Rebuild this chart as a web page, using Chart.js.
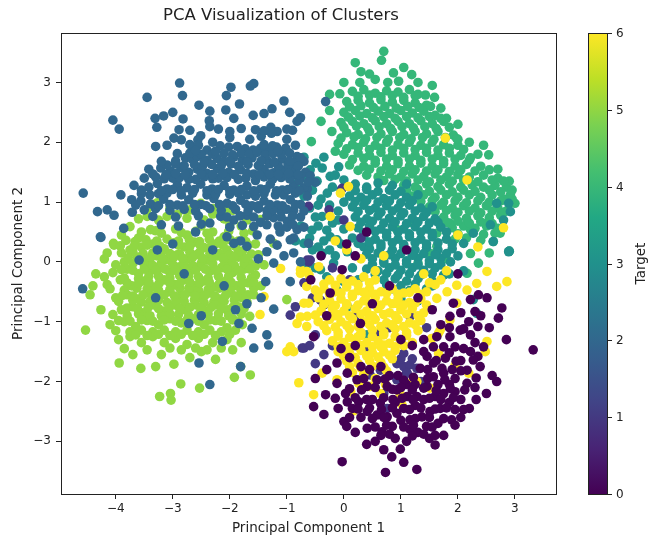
<!DOCTYPE html>
<html>
<head>
<meta charset="utf-8">
<script src="https://cdn.jsdelivr.net/npm/chart.js@4.4.1/dist/chart.umd.min.js"></script>
<style>
  html, body { margin: 0; padding: 0; background: #fff; }
  canvas { display: block; }
</style>
</head>
<body>
<canvas id="pca" width="658" height="547"></canvas>
<script>
// tick labels
const xTicks = [-4, -3, -2, -1, 0, 1, 2, 3];
const yTicks = [-3, -2, -1, 0, 1, 2, 3];
const cbarTicks = [0, 1, 2, 3, 4, 5, 6];

// points per target class as [pc1, pc2]
const target0 = [
  [3.32,-1.47],[-0.03,-3.34],[0.73,-3.52],[1.28,-3.47],[1.60,-3.06],[0.70,-3.14],[0.84,-3.26],[0.99,-3.13],[2.68,-2.00],[2.60,-1.90],
  [2.77,-0.77],[2.71,-0.94],[2.51,-0.60],[2.22,-1.22],[2.22,-1.50],[2.16,-2.03],[-0.53,-2.42],[0.00,-2.67],[0.41,-2.78],[0.67,-2.84],
  [1.89,-2.64],[1.95,-2.47],[1.16,-2.80],[-0.32,-2.22],[0.03,-2.20],[0.06,-2.34],[0.41,-2.50],[0.58,-2.56],[0.76,-2.59],[0.93,-2.53],
  [1.16,-2.64],[1.37,-2.59],[1.51,-2.50],[1.69,-2.45],[1.75,-2.20],[1.95,-2.17],[2.16,-1.81],[2.39,-1.75],[2.45,-1.42],[2.19,-1.00],
  [1.86,-0.91],[2.04,-1.14],[1.95,-1.42],[1.78,-1.61],[1.75,-1.86],[1.57,-1.92],[1.46,-2.08],[1.28,-2.25],[1.11,-2.25],[0.93,-2.14],
  [0.76,-2.08],[0.58,-1.97],[0.41,-2.08],[0.23,-1.97],[0.06,-1.86],[-0.12,-1.69],[-0.12,-2.03],[0.26,-2.34],[0.64,-2.36],[1.75,-1.42],
  [1.63,-1.25],[1.86,-1.25],[1.46,-1.58],[1.34,-1.78],[1.57,-1.69],[1.57,-1.42],[1.92,-0.69],[2.22,-0.63],[2.36,-0.55],[-0.58,-0.30],
  [-0.53,-1.25],[-0.24,-0.52],[-0.03,-0.13],[0.29,-1.03],[0.90,-2.35],[1.05,-2.45],[1.25,-2.40],[1.40,-2.30],[1.60,-2.25],[1.85,-2.35],
  [2.05,-2.30],[0.50,-2.30],[0.30,-2.60],[0.15,-2.45],[0.85,-2.75],[1.00,-2.65],[1.30,-2.85],[1.45,-2.75],[1.65,-2.70],[1.50,-2.95],
  [1.10,-3.00],[0.55,-3.00],[0.90,-2.95],[1.95,-1.95],[2.05,-1.65],[2.30,-1.35],[2.10,-1.45],[1.90,-1.80],[1.65,-2.05],[1.85,-2.05],
  [1.25,-2.05],[1.10,-2.05],[0.95,-1.90],[0.80,-1.90],[0.65,-1.75],[0.45,-1.80],[0.30,-1.75],[0.10,-1.60],[-0.05,-1.45],[0.20,-1.40],
  [1.40,-1.30],[1.20,-1.40],[1.00,-1.30],[1.70,-1.05],[1.55,-0.80],[2.40,-0.90],[2.55,-1.10],[-0.30,-1.80],[-0.50,-1.95],[2.85,-1.30],
  [2.50,-2.20],[2.30,-2.10],[-0.35,-2.55],[0.20,-2.85],[1.05,-3.35],[0.40,-3.05],[1.75,-2.90],[2.20,-2.45],[-0.30,-0.90],[0.50,-0.70],
  [1.30,-0.60],[0.80,-0.40],[0.05,0.30],[0.40,0.50],[0.20,0.10],[-0.40,0.10],[1.10,0.20],[2.00,-0.20],
  [1.40,-1.50],[1.85,-1.52],[2.35,-1.58],[1.62,-1.65],[1.97,-1.66],[2.27,-1.64],[1.47,-1.80],[1.72,-1.78],[2.05,-1.82],
  [0.35,-1.95],[0.72,-1.96],[1.05,-1.98],[1.22,-1.93],[1.47,-1.95],[1.77,-1.97],[2.32,-1.94],
  [0.10,-2.12],[0.31,-2.14],[0.55,-2.10],[0.85,-2.13],[1.00,-2.10],[1.20,-2.14],[1.40,-2.11],[1.62,-2.15],[1.87,-2.12],[2.12,-2.14],
  [-0.15,-2.28],[0.20,-2.27],[0.40,-2.30],[0.70,-2.27],[0.86,-2.30],[1.02,-2.28],[1.21,-2.30],[1.50,-2.28],[1.70,-2.30],[1.92,-2.27],[2.32,-2.30],
  [-0.10,-2.45],[0.25,-2.46],[0.45,-2.44],[0.66,-2.47],[0.85,-2.44],[1.15,-2.47],[1.35,-2.44],[1.60,-2.46],[1.80,-2.44],[2.10,-2.47],
  [0.10,-2.60],[0.50,-2.62],[0.70,-2.60],[1.25,-2.62],[1.50,-2.60],[1.75,-2.62],[2.05,-2.60],
  [0.05,-2.75],[0.55,-2.76],[0.75,-2.73],[1.05,-2.76],[1.22,-2.73],[1.55,-2.76],[1.95,-2.73],
  [0.65,-2.90],[0.80,-2.88],[1.20,-2.91],[1.40,-2.88],[1.60,-2.90],
  [1.85,-1.10],[2.10,-1.12],[2.35,-1.08],[2.05,-0.85],[2.30,-0.83]
];
const target1 = [
  [0.93,-1.70],[1.05,-1.75],[1.16,-1.72],[1.28,-1.78],[1.00,-1.62],[1.20,-1.62],[1.10,-1.85],[0.46,-1.89],[0.76,-2.45],[1.16,-0.91],
  [-0.73,-1.44],[-0.41,-0.64],[-0.35,-0.72],[-0.64,0.03],[1.05,-1.53],[1.11,-1.86],[0.64,-1.81],[0.93,-1.97],[-0.94,-0.89],[-0.70,-1.44],
  [-0.50,-1.22],[-0.62,0.00],[-0.62,0.93],[-0.03,1.23],[-0.26,0.87],[-0.59,0.03],[0.20,-0.90],[0.60,-1.20],[1.45,-1.10],[0.10,-0.30],
  [-0.20,-0.10],[0.40,-1.50],[0.80,-1.10],[1.35,-2.00],[0.70,-2.20],[-0.20,-1.40],[0.30,0.40],[0.00,0.70],
  [-0.70,-0.35],[-0.55,-0.60],[-0.85,-0.75],[-0.60,-1.40],[-0.35,-1.55],[-0.50,-1.70]
];
const target2 = [
  [-2.88,2.99],[-3.45,2.75],[-2.83,2.78],[-1.98,2.92],[-2.06,2.78],[-1.64,2.94],[-1.58,2.98],[-4.05,2.37],[-3.94,2.22],[-1.05,2.69],
  [-2.54,2.62],[-1.83,2.64],[-2.07,2.54],[-1.59,2.45],[-1.26,2.56],[-0.76,2.41],[-0.82,2.35],[-3.31,2.40],[-3.16,2.44],[-2.82,2.39],
  [-2.36,2.36],[-2.35,2.26],[-1.93,2.40],[-1.80,2.23],[-3.28,2.25],[-1.28,2.25],[-1.17,2.18],[-1.27,2.15],[-2.89,2.21],[-2.98,2.07],
  [-2.85,2.04],[-2.51,2.11],[-2.56,2.04],[-3.30,1.93],[-0.32,2.68],[-2.30,2.00],[-2.00,2.08],[-1.65,2.05],[-1.45,2.10],[-3.10,1.95],
  [-2.70,1.96],[-1.00,2.05],[-0.90,2.20],
  [-2.40,1.87],[-2.17,1.94],[-2.02,1.92],[-1.87,1.93],[-1.73,1.89],[-1.59,1.87],[-1.46,1.90],[-1.32,1.88],[-1.18,1.92],[-1.02,1.90],
  [-0.82,1.76],[-0.70,1.68],
  [-2.78,1.74],[-2.66,1.72],[-2.57,1.76],[-2.40,1.70],[-2.22,1.73],[-2.10,1.68],[-1.93,1.75],[-1.78,1.70],[-1.61,1.74],[-1.35,1.70],
  [-1.08,1.72],[-0.88,1.66],[-0.76,1.74],[-2.70,1.82],[-2.50,1.80],
  [-3.42,1.55],[-3.21,1.57],[-3.04,1.52],[-2.86,1.58],[-2.72,1.50],[-2.57,1.55],[-2.40,1.48],[-2.22,1.56],[-2.02,1.50],[-1.81,1.54],
  [-1.58,1.47],[-1.40,1.55],[-1.23,1.49],[-1.05,1.53],[-0.88,1.45],[-0.67,1.50],[-0.85,1.55],[-0.76,1.44],
  [-3.68,1.28],[-3.42,1.25],[-3.27,1.31],[-3.10,1.22],[-2.92,1.29],[-2.75,1.24],[-2.51,1.30],[-2.31,1.22],[-2.10,1.28],[-1.93,1.20],
  [-1.70,1.27],[-1.46,1.22],[-1.29,1.30],[-1.08,1.20],[-0.88,1.28],[-0.64,1.22],[-0.50,1.33],[-0.59,1.44],[-2.60,1.38],[-2.20,1.40],
  [-1.85,1.38],[-1.55,1.36],[-3.00,1.40],
  [-4.57,1.15],[-3.91,1.12],[-3.72,1.04],[-4.32,0.84],[-4.15,0.87],[-4.03,0.78],[-3.71,0.83],[-4.27,0.42],[-3.86,0.56],[-4.58,-0.45],
  [-4.26,0.41],
  [-3.56,1.02],[-3.39,0.97],[-3.16,1.05],[-2.92,0.95],[-2.72,1.04],[-2.51,0.96],[-2.28,1.06],[-2.05,0.98],[-1.81,1.03],[-1.61,0.94],
  [-1.40,1.02],[-1.17,0.95],[-0.94,1.04],[-0.76,0.96],[-0.70,1.24],[-0.64,1.10],[-2.40,1.12],[-2.00,1.13],[-1.55,1.10],[-1.20,1.12],
  [-3.25,1.14],
  [-2.16,0.76],[-1.93,0.70],[-1.70,0.78],[-1.46,0.66],[-1.23,0.74],[-0.99,0.68],[-0.76,0.75],[-1.10,0.84],[-1.35,0.86],[-0.88,0.86],
  [-2.35,0.65],
  [-2.05,0.42],[-1.81,0.35],[-1.52,0.45],[-1.29,0.38],[-1.12,0.50],[-0.88,0.40],[-0.62,0.31],[-0.82,0.54],[-1.00,0.58],
  [-1.93,0.31],[-1.70,0.26],[-1.35,0.17],[-1.17,0.28],[-0.94,0.37],[-0.88,0.15],[-1.23,-0.02],[-0.94,-0.33],[-1.37,-0.33],[-1.23,-0.79],
  [-1.35,-1.22],[-1.32,-1.39],[-1.58,-1.44],[-2.13,-1.33],[-1.61,-1.11],[-2.54,-1.69],[-2.35,-2.05],[-1.81,-1.75],[-1.84,-1.03],[-2.72,-1.03],
  [-3.27,0.20],[-3.59,0.03],[-0.76,0.00],[-1.05,0.10],[-1.50,0.05],[-1.45,-0.60],[-1.70,-0.70],
  [-2.60,0.50],[-3.00,0.30],[-2.30,0.20],[-2.80,-0.20],[-2.10,-0.40],[-3.30,-0.60],[-2.50,-0.90],[-1.90,-0.80],
  [-2.92,1.81],[-2.30,1.80],[-2.10,1.82],[-1.95,1.79],[-1.80,1.82],[-1.66,1.80],[-1.52,1.83],[-1.38,1.79],[-1.24,1.81],[-1.10,1.80],[-0.95,1.82],
  [-3.10,1.62],[-2.95,1.64],[-2.80,1.61],[-2.62,1.63],[-2.48,1.60],[-2.32,1.63],[-2.15,1.61],[-1.98,1.64],[-1.85,1.60],[-1.68,1.63],
  [-1.50,1.61],[-1.30,1.64],[-1.15,1.60],[-0.98,1.62],[-0.80,1.60],
  [-3.50,1.40],[-3.30,1.42],[-3.15,1.39],[-2.88,1.41],[-2.72,1.38],[-2.45,1.42],[-2.30,1.39],[-2.05,1.41],[-1.72,1.40],[-1.40,1.42],
  [-1.25,1.38],[-1.10,1.41],[-0.95,1.39],[-0.78,1.36],[-0.62,1.34],
  [-3.55,1.14],[-3.40,1.12],[-3.10,1.15],[-2.85,1.12],[-2.65,1.15],[-2.25,1.13],[-1.85,1.15],[-1.70,1.12],[-1.40,1.14],[-1.05,1.12],[-0.85,1.15],
  [-3.50,0.87],[-3.30,0.89],[-3.05,0.86],[-2.80,0.88],[-2.60,0.85],[-2.35,0.89],[-2.15,0.86],[-1.90,0.88],[-1.68,0.85],[-1.50,0.89],
  [-1.25,0.86],[-1.00,0.88],[-0.70,0.85],
  [-3.20,0.62],[-2.90,0.60],[-2.50,0.63],[-2.00,0.58],[-1.78,0.61],[-1.58,0.59],[-1.35,0.62],[-1.15,0.60],[-0.90,0.63],[-0.70,0.58],
  [-2.70,2.20],[-2.20,2.22],[-2.00,2.18],[-1.55,2.21],[-1.40,2.19],[-1.00,2.22],
  [-3.00,2.50],[-2.35,2.52],[-1.40,2.48],[-0.95,2.50],
  [-2.55,1.95],[-1.40,1.96],[-1.25,1.94],[-0.85,1.95],[-2.60,1.86],[-2.25,1.85],[-1.15,1.86],
  [-3.20,1.68],[-2.95,1.69],[-2.45,1.67],[-2.00,1.69],[-1.70,1.67],[-1.45,1.69],[-1.22,1.67],[-0.95,1.69],
  [-3.35,1.47],[-3.12,1.46],[-2.95,1.48],[-2.78,1.46],[-2.50,1.47],[-2.30,1.46],[-2.12,1.48],[-1.92,1.46],[-1.70,1.48],[-1.48,1.46],
  [-1.30,1.47],[-1.15,1.46],[-0.97,1.48],[-0.80,1.46],
  [-3.55,1.20],[-3.20,1.19],[-3.00,1.21],[-2.85,1.19],[-2.62,1.21],[-2.40,1.19],[-2.20,1.21],[-2.00,1.19],[-1.80,1.21],[-1.58,1.19],
  [-1.37,1.21],[-1.18,1.19],[-0.98,1.21],[-0.78,1.19],
  [-3.65,0.95],[-3.25,0.94],[-3.05,0.96],[-2.82,0.94],[-2.62,0.96],[-2.42,0.94],[-2.18,0.96],[-1.95,0.94],[-1.72,0.96],[-1.50,0.94],
  [-1.30,0.96],[-1.08,0.94],[-0.85,0.96],
  [-3.35,0.76],[-2.95,0.75],[-2.55,0.77],[-2.05,0.75],[-1.82,0.77],[-1.58,0.75],[-1.35,0.77],[-1.10,0.75],[-0.90,0.77]
];
const target3 = [
  [-0.59,1.54],[-0.38,1.57],[-0.47,1.35],[-0.24,1.43],[-0.29,1.15],[-0.09,1.59],[0.00,1.37],[-0.38,0.76],[-0.56,0.53],[-0.70,0.31],
  [-0.24,0.42],[-0.38,0.15],[-0.18,-0.02],[-0.64,1.49],[-0.74,1.40],[-0.49,1.65],
  [2.68,0.98],[2.89,0.98],[2.92,0.84],[2.80,0.70],[2.57,0.62],[2.62,0.34],[2.90,0.18],[2.10,0.31],[2.27,0.48],[1.87,0.00],
  [2.89,0.17],[0.41,-1.22],[2.33,-0.86],[2.27,-0.63],[0.06,-0.75],[-0.12,-0.47],[0.00,-0.33],[-0.41,-0.13],[-0.55,0.20],[-0.30,0.53],
  [-0.12,0.37],[0.06,0.17],[0.35,0.25],
  [0.20,1.30],[0.40,1.25],[0.60,1.32],[0.85,1.28],[1.10,1.30],
  [0.10,1.10],[0.30,1.08],[0.50,1.12],[0.70,1.06],[0.90,1.12],[1.10,1.08],[1.30,1.12],
  [0.15,0.92],[0.35,0.95],[0.55,0.90],[0.75,0.94],[0.95,0.90],[1.15,0.95],[1.35,0.90],[1.55,0.92],
  [0.20,0.75],[0.40,0.72],[0.60,0.77],[0.80,0.73],[1.00,0.77],[1.20,0.73],[1.40,0.76],[1.60,0.72],
  [0.25,0.57],[0.45,0.60],[0.65,0.55],[0.85,0.59],[1.05,0.55],[1.25,0.59],[1.45,0.55],[1.70,0.58],
  [0.15,0.40],[0.35,0.42],[0.55,0.38],[0.75,0.42],[0.95,0.38],[1.15,0.42],[1.35,0.38],[1.55,0.42],[1.80,0.38],
  [0.45,0.22],[0.65,0.25],[0.85,0.20],[1.05,0.24],[1.25,0.20],[1.45,0.24],[1.65,0.20],[1.90,0.22],
  [0.50,0.05],[0.70,0.02],[0.90,0.06],[1.10,0.02],[1.30,0.06],[1.50,0.02],[1.70,0.06],[2.00,0.10],
  [0.40,-0.12],[0.60,-0.15],[0.80,-0.10],[1.00,-0.14],[1.20,-0.10],[1.40,-0.14],[1.60,-0.10],[1.85,-0.20],
  [0.70,-0.30],[0.90,-0.28],[1.10,-0.32],[1.30,-0.28],[1.55,-0.32],[2.10,-0.15],
  [0.85,-0.45],[1.15,-0.48],[1.45,-0.45],[1.00,-0.62],[1.30,-0.65],[0.25,-0.30],[0.15,-0.10],
  [0.20,1.19],[0.40,1.21],[0.60,1.18],[0.80,1.20],[1.00,1.18],
  [0.20,1.01],[0.40,1.03],[0.60,1.00],[0.80,1.02],[1.00,0.99],[1.20,1.02],
  [0.25,0.84],[0.45,0.86],[0.65,0.83],[0.85,0.85],[1.05,0.82],[1.25,0.85],[1.45,0.83],
  [0.30,0.66],[0.50,0.68],[0.70,0.65],[0.90,0.67],[1.10,0.64],[1.30,0.67],[1.50,0.65],[1.65,0.66],
  [0.35,0.49],[0.55,0.51],[0.75,0.48],[0.95,0.50],[1.15,0.47],[1.35,0.50],[1.55,0.48],[1.80,0.50],
  [0.25,0.31],[0.45,0.33],[0.65,0.30],[0.85,0.32],[1.05,0.29],[1.25,0.32],[1.45,0.30],[1.65,0.32],[1.90,0.30],
  [0.40,0.13],[0.60,0.15],[0.80,0.12],[1.00,0.14],[1.20,0.11],[1.40,0.14],[1.60,0.12],[1.80,0.14],
  [0.50,-0.04],[0.70,-0.02],[0.90,-0.05],[1.10,-0.03],[1.30,-0.05],[1.50,-0.03],[1.70,-0.05],
  [0.55,-0.21],[0.75,-0.19],[0.95,-0.22],[1.15,-0.20],[1.35,-0.22],[1.55,-0.20],[1.75,-0.22],
  [0.75,-0.38],[1.00,-0.40],[1.25,-0.37],[1.55,-0.40],
  [-0.45,0.95],[-0.20,1.25],[-0.10,0.85],[-0.35,0.35],[0.00,0.55],[-0.50,0.75],[-0.15,0.10],
  [-0.85,1.30],[-0.70,1.10],[-0.55,1.20],[-0.40,1.05],[-0.25,0.95],[-0.60,0.90],[-0.45,0.60],[-0.20,0.65],[-0.75,0.60],
  [-0.60,0.40],[-0.85,0.35],[-0.45,0.25],[-0.25,0.20],[-0.05,0.30],[-0.65,-0.05],[-0.50,-0.10],[-0.30,-0.25],[-0.15,1.45],
  [-0.35,1.75],[-0.70,1.75],[-0.95,1.55],[-0.10,0.70],[0.00,1.00],[-0.05,1.20]
];
const target4 = [
  [0.70,3.52],[0.66,3.37],[0.20,3.33],[1.05,3.25],[1.19,3.13],[0.45,3.14],[0.28,3.00],[0.87,3.16],[0.77,3.00],[0.96,3.02],
  [-0.07,2.81],[1.43,2.79],[1.59,2.75],[1.70,2.57],[1.92,2.12],[2.54,1.79],[2.22,1.74],[2.92,1.12],[3.00,0.98],[2.90,0.18],
  [2.62,0.34],[-0.25,2.53],[-0.21,2.18],[-0.57,2.01],
  [0.15,2.85],[0.35,2.88],[0.55,2.82],[0.75,2.86],[0.95,2.84],[1.15,2.88],[1.30,2.80],
  [0.05,2.68],[0.25,2.70],[0.45,2.66],[0.65,2.71],[0.85,2.67],[1.05,2.70],[1.25,2.66],[1.45,2.62],
  [0.00,2.50],[0.20,2.53],[0.40,2.48],[0.60,2.52],[0.80,2.48],[1.00,2.53],[1.20,2.49],[1.40,2.52],[1.60,2.45],
  [-0.05,2.33],[0.15,2.35],[0.35,2.31],[0.55,2.36],[0.75,2.31],[0.95,2.35],[1.15,2.31],[1.35,2.36],[1.55,2.31],[1.75,2.35],
  [0.05,2.16],[0.25,2.13],[0.45,2.18],[0.65,2.14],[0.85,2.18],[1.05,2.13],[1.25,2.18],[1.45,2.14],[1.65,2.18],[1.85,2.25],
  [-0.10,1.98],[0.15,1.96],[0.35,2.00],[0.55,1.95],[0.75,2.00],[0.95,1.96],[1.15,2.00],[1.35,1.95],[1.55,2.00],[1.75,1.96],[2.00,1.95],
  [0.00,1.80],[0.25,1.82],[0.45,1.78],[0.65,1.83],[0.85,1.78],[1.05,1.82],[1.25,1.78],[1.45,1.83],[1.65,1.78],[1.85,1.82],[2.05,1.78],[2.35,1.80],
  [0.10,1.62],[0.35,1.60],[0.55,1.65],[0.75,1.60],[0.95,1.64],[1.15,1.60],[1.35,1.65],[1.55,1.60],[1.75,1.64],[1.95,1.60],[2.15,1.63],[2.40,1.60],
  [0.40,1.45],[0.60,1.42],[0.80,1.47],[1.00,1.42],[1.20,1.47],[1.40,1.43],[1.60,1.47],[1.80,1.42],[2.00,1.46],[2.20,1.42],[2.45,1.45],[2.70,1.40],
  [1.05,1.28],[1.25,1.25],[1.45,1.30],[1.65,1.26],[1.85,1.30],[2.05,1.25],[2.25,1.29],[2.45,1.25],[2.65,1.28],[2.85,1.25],
  [1.20,1.10],[1.40,1.12],[1.60,1.08],[1.80,1.12],[2.00,1.08],[2.20,1.12],[2.40,1.08],[2.60,1.12],[2.80,1.05],
  [1.50,0.92],[1.70,0.95],[1.90,0.90],[2.10,0.94],[2.30,0.90],[2.50,0.94],[2.70,0.90],
  [1.75,0.75],[1.95,0.78],[2.15,0.73],[2.35,0.77],[2.55,0.74],[2.75,0.78],
  [1.90,0.57],[2.10,0.60],[2.30,0.56],[2.50,0.60],[2.70,0.56],
  [1.95,0.38],[2.15,0.40],[2.40,0.36],[2.55,0.15],
  [0.93,0.54],[1.22,0.65],[1.63,0.48],[1.86,0.65],[2.22,0.54],[2.51,0.65],[2.74,0.48],[1.63,0.26],[2.22,0.14],[2.36,-0.02],
  [2.16,-0.19],[1.52,0.14],[1.80,0.05],[1.30,-0.02],
  [0.00,3.00],[0.30,3.18],[0.55,3.05],[1.30,3.00],[1.55,2.95],[1.80,2.40],[2.00,2.30],[2.00,2.05],[2.20,2.00],[2.45,1.95],
  [2.70,1.55],[2.90,1.35],[2.95,1.05],[2.85,0.85],[-0.25,2.80],[-0.40,2.35],[-0.15,1.85],
  [0.25,2.77],[0.45,2.79],[0.65,2.76],[0.85,2.78],[1.05,2.75],[1.25,2.78],
  [0.10,2.59],[0.30,2.61],[0.52,2.58],[0.72,2.60],[0.92,2.57],[1.12,2.60],[1.32,2.58],[1.52,2.60],
  [0.08,2.42],[0.28,2.44],[0.50,2.41],[0.70,2.43],[0.90,2.40],[1.10,2.43],[1.30,2.41],[1.50,2.43],[1.70,2.40],
  [0.00,2.25],[0.22,2.27],[0.42,2.24],[0.62,2.26],[0.82,2.23],[1.02,2.26],[1.22,2.24],[1.42,2.26],[1.62,2.23],
  [-0.05,2.07],[0.18,2.09],[0.38,2.06],[0.58,2.08],[0.78,2.05],[0.98,2.08],[1.18,2.06],[1.38,2.08],[1.58,2.05],[1.78,2.08],[1.98,2.06],
  [0.05,1.89],[0.25,1.91],[0.45,1.88],[0.65,1.90],[0.85,1.87],[1.05,1.90],[1.25,1.88],[1.45,1.90],[1.65,1.87],[1.85,1.90],[2.10,1.88],
  [0.15,1.71],[0.35,1.73],[0.55,1.70],[0.75,1.72],[0.95,1.69],[1.15,1.72],[1.35,1.70],[1.55,1.72],[1.75,1.69],[1.95,1.72],[2.20,1.70],
  [0.25,1.53],[0.45,1.55],[0.65,1.52],[0.85,1.54],[1.05,1.51],[1.25,1.54],[1.45,1.52],[1.65,1.54],[1.85,1.51],[2.05,1.54],[2.30,1.52],[2.55,1.54],
  [0.70,1.36],[0.90,1.38],[1.10,1.35],[1.30,1.37],[1.50,1.34],[1.70,1.37],[1.90,1.35],[2.10,1.37],[2.35,1.34],[2.60,1.37],[2.80,1.35],
  [1.10,1.19],[1.30,1.21],[1.50,1.18],[1.70,1.20],[1.90,1.17],[2.10,1.20],[2.30,1.18],[2.55,1.20],[2.75,1.17],[2.95,1.20],
  [1.35,1.01],[1.55,1.03],[1.75,1.00],[1.95,1.02],[2.15,0.99],[2.35,1.02],[2.55,1.00],[2.75,1.02],
  [1.60,0.84],[1.80,0.86],[2.00,0.83],[2.20,0.85],[2.40,0.82],[2.60,0.85],[2.80,0.83],
  [1.80,0.66],[2.00,0.68],[2.20,0.65],[2.40,0.67],[2.60,0.64],
  [2.00,0.47],[2.25,0.49],[2.45,0.46],[2.65,0.48]
];
const target5 = [
  [-3.27,0.99],[-2.51,0.98],[-2.09,0.87],[-1.46,0.71],[-3.75,0.59],[-4.04,0.31],[-3.45,0.76],[-3.10,0.76],[-2.92,0.79],[-2.69,0.87],
  [-3.39,0.54],[-2.30,0.80],[-1.80,0.60],[-1.60,0.52],[-2.00,0.62],
  [-3.90,0.45],[-3.60,0.40],[-3.20,0.48],[-2.95,0.55],[-2.75,0.45],[-2.50,0.60],[-2.30,0.50],[-2.10,0.42],[-1.85,0.35],[-1.55,0.30],
  [-4.03,0.28],[-3.75,0.20],[-3.55,0.25],[-3.35,0.30],[-3.15,0.22],[-2.98,0.32],[-2.80,0.25],[-2.62,0.33],[-2.45,0.24],[-2.25,0.30],
  [-2.05,0.20],[-1.78,0.18],[-1.50,0.12],[-1.23,0.31],
  [-4.20,0.05],[-3.85,0.00],[-3.62,0.08],[-3.45,0.02],[-3.28,0.10],[-3.10,0.04],[-2.92,0.12],[-2.75,0.05],[-2.58,0.12],[-2.40,0.03],
  [-2.22,0.10],[-2.02,0.00],[-1.85,0.08],[-1.65,-0.02],[-1.40,-0.05],
  [-4.35,-0.20],[-4.05,-0.18],[-3.80,-0.12],[-3.60,-0.20],[-3.40,-0.14],[-3.22,-0.10],[-3.05,-0.18],[-2.88,-0.08],[-2.70,-0.15],[-2.52,-0.07],
  [-2.35,-0.16],[-2.15,-0.10],[-1.95,-0.18],[-1.75,-0.12],[-1.55,-0.22],
  [-4.45,-0.55],[-4.15,-0.38],[-3.92,-0.30],[-3.72,-0.40],[-3.52,-0.32],[-3.33,-0.42],[-3.15,-0.30],[-2.97,-0.38],[-2.80,-0.30],[-2.62,-0.40],
  [-2.45,-0.32],[-2.27,-0.42],[-2.08,-0.33],[-1.88,-0.40],[-1.68,-0.35],[-1.45,-0.40],
  [-4.26,-0.80],[-4.00,-0.60],[-3.80,-0.55],[-3.62,-0.62],[-3.43,-0.52],[-3.25,-0.60],[-3.05,-0.50],[-2.88,-0.58],[-2.70,-0.50],[-2.52,-0.60],
  [-2.35,-0.52],[-2.17,-0.62],[-1.98,-0.52],[-1.78,-0.60],[-1.58,-0.55],
  [-3.90,-0.80],[-3.70,-0.75],[-3.52,-0.85],[-3.33,-0.72],[-3.15,-0.82],[-2.97,-0.72],[-2.78,-0.80],[-2.60,-0.72],[-2.42,-0.82],[-2.25,-0.72],
  [-2.05,-0.80],[-1.85,-0.75],[-1.65,-0.91],[-1.95,-0.95],
  [-4.53,-1.14],[-4.10,-1.05],[-3.85,-1.00],[-3.65,-1.08],[-3.45,-0.98],[-3.25,-1.05],[-3.05,-0.95],[-2.85,-1.02],[-2.65,-0.95],[-2.45,-1.05],
  [-2.25,-0.98],[-2.05,-1.10],[-1.78,-1.05],
  [-3.95,-1.30],[-3.75,-1.25],[-3.55,-1.35],[-3.35,-1.25],[-3.15,-1.35],[-2.95,-1.28],[-2.75,-1.38],[-2.55,-1.28],[-2.30,-1.35],[-2.05,-1.30],
  [-1.80,-1.35],
  [-3.94,-1.69],[-3.56,-1.78],[-3.30,-1.75],[-2.98,-1.71],[-2.25,-1.63],[-1.81,-1.75],[-1.92,-1.93],[-1.64,-1.89],[-2.86,-2.04],[-2.53,-2.11],
  [-3.23,-2.25],[-3.04,-2.20],[-3.03,-2.31],[-3.70,-1.55],[-3.20,-1.55],[-2.70,-1.60],[-2.50,-1.50],[-4.15,0.15],[-4.40,-0.40],[-1.00,-0.63],
  [-3.35,0.15],[-3.05,0.14],[-2.70,0.16],[-2.35,0.14],[-2.00,0.12],
  [-3.50,-0.05],[-3.20,-0.02],[-2.80,-0.04],[-2.50,-0.02],[-2.10,-0.05],
  [-3.60,-0.28],[-3.25,-0.24],[-2.88,-0.23],[-2.55,-0.25],[-2.20,-0.24],[-1.80,-0.26],
  [-3.45,-0.45],[-3.05,-0.46],[-2.72,-0.44],[-2.38,-0.46],[-2.00,-0.45],
  [-3.40,-0.66],[-3.10,-0.68],[-2.80,-0.66],[-2.45,-0.68],[-2.10,-0.66],
  [-3.20,-0.90],[-2.90,-0.88],[-2.55,-0.88],[-2.20,-0.87],
  [-3.82,0.36],[-3.66,0.34],[-3.47,0.37],[-3.28,0.35],[-3.10,0.38],[-2.90,0.35],[-2.71,0.37],[-2.53,0.34],[-2.36,0.38],[-2.18,0.35],[-1.99,0.37],[-1.72,0.34],
  [-3.90,0.15],[-3.70,0.17],[-3.52,0.14],[-3.20,0.16],[-2.88,0.13],[-2.53,0.16],[-2.18,0.14],[-1.85,0.17],[-1.62,0.13],
  [-4.00,-0.05],[-3.70,-0.03],[-3.35,-0.06],[-3.00,-0.04],[-2.65,-0.06],[-2.30,-0.03],[-1.92,-0.06],[-1.75,-0.03],[-1.55,-0.07],
  [-4.20,-0.25],[-3.85,-0.27],[-3.42,-0.24],[-3.05,-0.27],[-2.72,-0.24],[-2.38,-0.27],[-2.02,-0.24],[-1.62,-0.27],
  [-4.10,-0.45],[-3.85,-0.47],[-3.63,-0.44],[-3.25,-0.47],[-2.88,-0.44],[-2.55,-0.47],[-2.18,-0.44],[-1.80,-0.47],[-1.58,-0.44],
  [-3.95,-0.66],[-3.70,-0.64],[-3.55,-0.67],[-3.25,-0.64],[-2.95,-0.67],[-2.62,-0.64],[-2.28,-0.67],[-1.92,-0.64],[-1.70,-0.67],
  [-4.05,-0.88],[-3.80,-0.90],[-3.60,-0.87],[-3.40,-0.90],[-3.05,-0.87],[-2.72,-0.90],[-2.38,-0.87],[-2.02,-0.90],[-1.80,-0.87],
  [-4.00,-1.15],[-3.75,-1.17],[-3.55,-1.14],[-3.35,-1.17],[-3.15,-1.14],[-2.95,-1.17],[-2.75,-1.14],[-2.55,-1.17],[-2.35,-1.14],[-2.15,-1.17],[-1.90,-1.14],
  [-3.85,-1.45],[-3.45,-1.47],[-3.05,-1.44],[-2.85,-1.47],[-2.60,-1.44],[-2.40,-1.47],[-2.15,-1.44],[-1.95,-1.47],
  [-3.60,0.72],[-3.25,0.70],[-2.75,0.73],[-2.45,0.70],[-2.10,0.72],[-1.70,0.70],
  [-3.45,0.88],[-3.05,0.90],[-2.80,0.87],[-2.30,0.89],[-1.95,0.86],
  [-3.55,0.50],[-3.30,0.52],[-2.85,0.49],[-2.60,0.51],[-2.40,0.48],[-2.02,0.51],[-1.75,0.48],
  [-3.92,0.27],[-3.68,0.26],[-3.45,0.28],[-3.22,0.26],[-2.90,0.28],[-2.70,0.26],[-2.52,0.28],[-2.33,0.26],[-2.12,0.28],[-1.90,0.26],[-1.68,0.28],
  [-3.78,0.07],[-3.55,0.06],[-3.38,0.08],[-3.18,0.06],[-2.98,0.08],[-2.83,0.06],[-2.65,0.08],[-2.48,0.06],[-2.30,0.08],[-2.12,0.06],[-1.93,0.08],[-1.72,0.06],
  [-3.90,-0.13],[-3.70,-0.14],[-3.50,-0.12],[-3.30,-0.14],[-3.13,-0.12],[-2.96,-0.14],[-2.78,-0.12],[-2.60,-0.14],[-2.43,-0.12],[-2.25,-0.14],
  [-2.05,-0.12],[-1.85,-0.14],[-1.65,-0.12],
  [-3.80,-0.35],[-3.60,-0.36],[-3.42,-0.34],[-3.24,-0.36],[-3.06,-0.34],[-2.88,-0.36],[-2.70,-0.34],[-2.53,-0.36],[-2.36,-0.34],[-2.18,-0.36],
  [-1.98,-0.34],[-1.78,-0.36],[-1.58,-0.34],
  [-3.88,-0.56],[-3.70,-0.57],[-3.52,-0.55],[-3.34,-0.57],[-3.15,-0.55],[-2.97,-0.57],[-2.79,-0.55],[-2.61,-0.57],[-2.43,-0.55],[-2.26,-0.57],
  [-2.07,-0.55],[-1.88,-0.57],[-1.68,-0.55],
  [-3.80,-0.77],[-3.62,-0.78],[-3.43,-0.76],[-3.25,-0.78],[-3.06,-0.76],[-2.88,-0.78],[-2.70,-0.76],[-2.51,-0.78],[-2.33,-0.76],[-2.15,-0.78],
  [-1.95,-0.76],[-1.75,-0.78],
  [-3.95,-0.98],[-3.75,-0.99],[-3.55,-0.97],[-3.35,-0.99],[-3.15,-0.97],[-2.95,-0.99],[-2.75,-0.97],[-2.55,-0.99],[-2.35,-0.97],[-2.15,-0.99],
  [-1.95,-0.97],[-1.85,-1.00],
  [-3.65,-1.22],[-3.45,-1.23],[-3.25,-1.21],[-3.05,-1.23],[-2.85,-1.21],[-2.65,-1.23],[-2.45,-1.21],[-2.25,-1.23],[-2.00,-1.21]
];
const target6 = [
  [-1.00,-1.50],[-0.94,-1.42],[-0.79,-2.02],[-0.53,-2.22],[-0.38,-1.86],[0.17,-2.49],[1.02,-2.39],[1.95,-1.73],[2.19,-1.86],[2.51,-1.33],
  [2.48,-1.50],[2.86,-0.33],[2.68,-0.41],[2.51,-0.16],[-0.12,-1.97],[0.12,-2.17],[0.26,-2.03],[0.46,-2.08],[0.64,-2.20],[0.73,-2.05],
  [0.99,-2.22],[1.11,-2.03],[1.28,-2.00],[1.51,-2.11],[1.66,-1.53],[1.66,-1.19],[1.54,-1.28],[1.69,-1.14],[1.86,-0.97],[1.98,-0.69],
  [2.16,-0.47],[2.33,-0.36],[1.98,-0.39],[1.81,-0.50],[1.63,-0.61],[-0.70,-0.69],[-0.64,-0.91],[-0.82,-1.03],[-0.50,-0.47],[-0.76,-0.13],
  [-0.61,-0.22],[-0.44,-0.08],[-1.11,-0.11],[-0.76,-0.19],[-0.65,-0.16],[-0.65,-0.41],[-0.62,-0.69],[-0.76,-0.92],[-0.65,-1.08],[-0.88,-1.50],
  [-1.40,-0.58],[-1.47,-0.88],[1.78,2.07],[2.16,1.37],[2.80,0.57],[-0.06,1.15],[0.08,1.26],[-0.24,0.76],[0.11,0.59],
  [-0.25,-0.30],[-0.05,-0.28],[0.15,-0.32],[0.35,-0.25],[0.55,-0.30],[1.50,-0.35],[1.70,-0.30],
  [-0.35,-0.45],[-0.15,-0.50],[0.05,-0.42],[0.25,-0.48],[0.45,-0.45],[0.65,-0.50],[0.85,-0.45],[1.05,-0.52],[1.25,-0.45],[1.45,-0.50],
  [-0.45,-0.60],[-0.25,-0.65],[-0.05,-0.62],[0.15,-0.58],[0.35,-0.65],[0.55,-0.60],[0.75,-0.65],[0.95,-0.62],[1.15,-0.68],[1.35,-0.62],
  [-0.40,-0.82],[-0.20,-0.78],[0.00,-0.82],[0.20,-0.78],[0.40,-0.82],[0.60,-0.78],[0.80,-0.85],[1.00,-0.80],[1.20,-0.78],[1.40,-0.85],
  [-0.45,-1.00],[-0.25,-0.96],[-0.05,-1.00],[0.15,-0.95],[0.35,-1.00],[0.55,-0.96],[0.75,-1.02],[0.95,-0.96],[1.15,-1.02],[1.35,-0.98],
  [-0.30,-1.15],[-0.10,-1.18],[0.10,-1.12],[0.30,-1.18],[0.50,-1.14],[0.70,-1.18],[0.90,-1.12],[1.10,-1.18],[1.30,-1.15],
  [-0.20,-1.32],[0.00,-1.35],[0.20,-1.30],[0.40,-1.35],[0.60,-1.32],[0.80,-1.36],[1.00,-1.30],[1.20,-1.35],
  [-0.10,-1.50],[0.10,-1.52],[0.30,-1.48],[0.50,-1.52],[0.70,-1.50],[0.90,-1.48],
  [0.05,-1.66],[0.25,-1.70],[0.45,-1.65],[0.65,-1.68],[0.85,-1.62],
  [0.15,-1.85],[0.35,-1.88],[0.75,-1.82],[0.55,-1.95],
  [0.05,-0.72],[0.45,-0.90],[0.85,-1.05],[0.25,-1.25],[0.65,-1.42],[0.40,-0.55],[-0.15,-0.90],[1.05,-1.40],[0.95,-0.70],[0.15,-1.60],
  [0.30,0.05],[0.55,-0.15],[1.40,-0.20],[1.80,-0.15],[0.05,0.20],[-0.15,0.35],[0.70,0.10],[2.35,0.25],[2.00,0.45],
  [-0.35,-0.37],[-0.15,-0.39],[0.05,-0.36],[0.25,-0.38],[0.45,-0.35],[1.60,-0.38],
  [-0.45,-0.53],[-0.25,-0.55],[-0.05,-0.52],[0.15,-0.54],[0.35,-0.51],[0.55,-0.54],[0.75,-0.52],[0.95,-0.54],[1.15,-0.51],[1.35,-0.54],
  [-0.35,-0.71],[-0.15,-0.73],[0.05,-0.70],[0.25,-0.72],[0.45,-0.69],[0.65,-0.72],[0.85,-0.70],[1.05,-0.72],[1.25,-0.69],[1.45,-0.72],
  [-0.50,-0.89],[-0.30,-0.91],[-0.10,-0.88],[0.10,-0.90],[0.30,-0.87],[0.50,-0.90],[0.70,-0.88],[0.90,-0.90],[1.10,-0.87],[1.30,-0.90],
  [-0.35,-1.07],[-0.15,-1.09],[0.05,-1.06],[0.25,-1.08],[0.45,-1.05],[0.65,-1.08],[0.85,-1.06],[1.05,-1.08],[1.25,-1.05],
  [-0.10,-1.24],[0.10,-1.26],[0.30,-1.23],[0.50,-1.25],[0.70,-1.22],[0.90,-1.25],[1.10,-1.23],
  [-0.10,-1.41],[0.10,-1.43],[0.30,-1.40],[0.50,-1.42],[0.70,-1.39],[0.90,-1.42],
  [0.00,-1.58],[0.20,-1.60],[0.40,-1.57],[0.60,-1.59],[0.80,-1.56],
  [0.10,-1.75],[0.30,-1.77],[0.50,-1.74],[0.70,-1.76]
];

// viridis colour per class 0..6
const classColors = ['#440154', '#443983', '#31688e', '#21918c', '#35b779', '#90d743', '#fde725'];
const viridisStops = ['#440154', '#482475', '#414487', '#355f8d', '#2a788e', '#21918c',
                      '#22a884', '#44bf70', '#7ad151', '#bddf26', '#fde725'];

const classes = [target0, target1, target2, target3, target4, target5, target6];
const drawOrder = [2, 5, 0, 6, 1, 3, 4];

const datasets = drawOrder.map(k => ({
    label: 'Target ' + k,
    data: classes[k].map(p => ({x: p[0], y: p[1]})),
    backgroundColor: classColors[k],
    borderWidth: 0,
    pointRadius: 4.8,
    pointHoverRadius: 4.8
}));

const FONT = '"DejaVu Sans", sans-serif';
const TEXT = '#222';

function minusFmt(v) {
    return v < 0 ? '\u2212' + Math.abs(v) : String(v);
}

// box around the plot area
const frame = {
    id: 'frame',
    afterDraw(chart) {
        const {ctx, chartArea: a} = chart;
        ctx.save();
        ctx.strokeStyle = TEXT;
        ctx.lineWidth = 1;
        ctx.strokeRect(Math.round(a.left) + 0.5, Math.round(a.top) + 0.5,
                       Math.round(a.right - a.left), Math.round(a.bottom - a.top));
        ctx.restore();
    }
};

// colour bar on the right
const colorbar = {
    id: 'colorbar',
    afterDraw(chart) {
        const {ctx, chartArea} = chart;
        const x0 = 588, w = 19;
        const top = Math.round(chartArea.top), bottom = Math.round(chartArea.bottom);
        const g = ctx.createLinearGradient(0, bottom, 0, top);
        viridisStops.forEach((c, i) => g.addColorStop(i / (viridisStops.length - 1), c));
        ctx.save();
        ctx.fillStyle = g;
        ctx.fillRect(x0, top, w, bottom - top);
        ctx.strokeStyle = TEXT;
        ctx.lineWidth = 1;
        ctx.strokeRect(x0 + 0.5, top + 0.5, w, bottom - top);
        ctx.font = '12px ' + FONT;
        ctx.fillStyle = TEXT;
        ctx.textAlign = 'left';
        ctx.textBaseline = 'middle';
        const lo = cbarTicks[0], hi = cbarTicks[cbarTicks.length - 1];
        cbarTicks.forEach(v => {
            const y = Math.round(bottom - (v - lo) / (hi - lo) * (bottom - top)) + 0.5;
            ctx.beginPath();
            ctx.moveTo(x0 + w, y);
            ctx.lineTo(x0 + w + 5, y);
            ctx.stroke();
            ctx.fillText(String(v), x0 + w + 9, y);
        });
        ctx.translate(641, (top + bottom) / 2);
        ctx.rotate(-Math.PI / 2);
        ctx.textAlign = 'center';
        ctx.font = '13.5px ' + FONT;
        ctx.fillText('Target', 0, 0);
        ctx.restore();
    }
};

new Chart(document.getElementById('pca'), {
    type: 'scatter',
    data: { datasets: datasets },
    plugins: [frame, colorbar],
    options: {
        responsive: false,
        devicePixelRatio: 1,
        animation: false,
        events: [],
        layout: { padding: { left: 6, right: 102, top: 0, bottom: 4 } },
        plugins: {
            legend: { display: false },
            tooltip: { enabled: false },
            title: {
                display: true,
                text: 'PCA Visualization of Clusters',
                color: TEXT,
                font: { family: FONT, size: 16.5, weight: 'normal' },
                padding: { top: 6, bottom: 7 }
            }
        },
        scales: {
            x: {
                type: 'linear',
                min: -4.96,
                max: 3.72,
                afterBuildTicks: s => { s.ticks = xTicks.map(v => ({value: v})); },
                afterFit: s => { s.height = 49; },
                border: { display: false },
                grid: { drawOnChartArea: false, drawTicks: true, tickLength: 5, color: TEXT },
                ticks: { color: TEXT, font: { family: FONT, size: 12 }, padding: 3, maxRotation: 0, callback: minusFmt },
                title: { display: true, text: 'Principal Component 1', color: TEXT,
                         font: { family: FONT, size: 13.5 }, padding: { top: 2, bottom: 6 } }
            },
            y: {
                type: 'linear',
                min: -3.88,
                max: 3.83,
                afterBuildTicks: s => { s.ticks = yTicks.map(v => ({value: v})); },
                afterFit: s => { s.width = 55; },
                border: { display: false },
                grid: { drawOnChartArea: false, drawTicks: true, tickLength: 5, color: TEXT },
                ticks: { color: TEXT, font: { family: FONT, size: 12 }, padding: 5, callback: minusFmt },
                title: { display: true, text: 'Principal Component 2', color: TEXT,
                         font: { family: FONT, size: 13.5 }, padding: { top: 4, bottom: 2 } }
            }
        }
    }
});
</script>
</body>
</html>
